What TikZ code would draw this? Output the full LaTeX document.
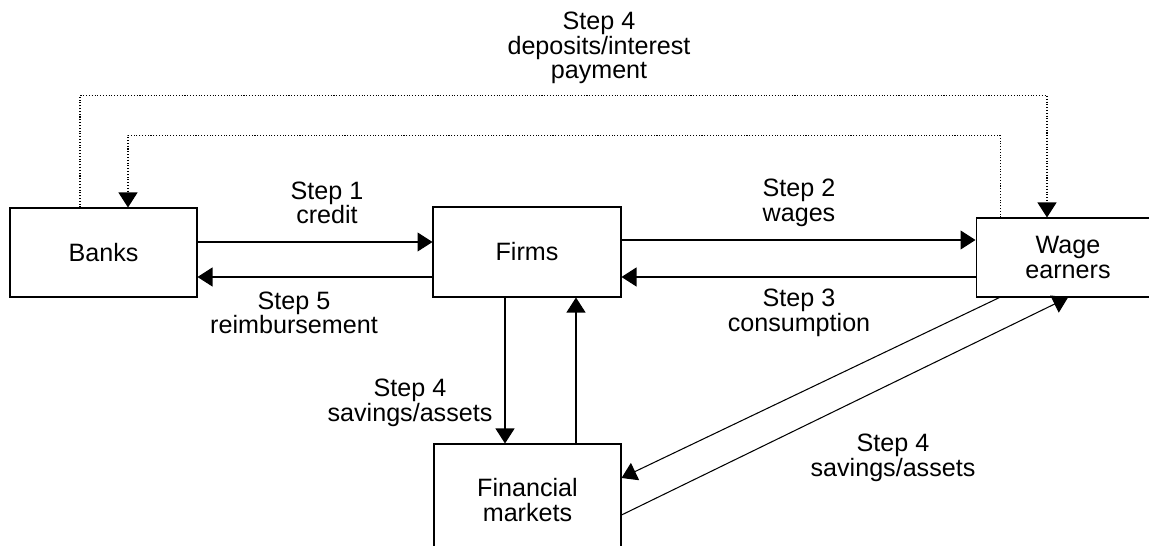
\documentclass[tikz,border=0pt]{standalone}
\usepackage{fontspec}
\setmainfont{Liberation Sans}
\usetikzlibrary{positioning, arrows.meta, calc}

\tikzset{
  actor/.style={draw, line width=0.6pt, inner sep=0pt, align=center,
    font=\fontsize{14.3}{14}\selectfont},
  steplabel/.style={align=center, inner sep=0pt,
    font=\fontsize{14.3}{14}\selectfont},
  flow/.style={line width=0.6pt, -{Triangle[length=0.3cm, width=0.38cm]}},
  loan/.style={flow, densely dotted}
}

\begin{document}
\begin{tikzpicture}[x=0.02cm, y=-0.02cm]
  \useasboundingbox (0,0) rectangle (1149,546);

  % Sectors
  \node[actor, minimum width=3.74cm, minimum height=1.78cm] (banks) at (103.5,252.5) {Banks};
  \node[actor, minimum width=3.76cm, minimum height=1.8cm] (firms) at (527,252) {Firms};
  \node[actor, minimum width=3.68cm, minimum height=1.58cm] (wage) at (1068,257.5) {Wage\\earners};
  \node[actor, minimum width=3.74cm, minimum height=2.24cm] (fin) at (527.5,500) {Financial\\markets};

  % Credit and reimbursement
  \draw[flow] ([yshift=2.1mm]banks.east) -- ([yshift=2.1mm]banks.east -| firms.west);
  \draw[flow] ([yshift=-5mm]firms.west) -- ([yshift=-5mm]firms.west -| banks.east);

  % Wages and consumption
  \draw[flow] ([yshift=2.4mm]firms.east) -- ([yshift=2.4mm]firms.east -| wage.west);
  \draw[flow] ([yshift=-5mm]firms.east -| wage.west) -- ([yshift=-5mm]firms.east);

  % Savings between firms and markets
  \draw[flow] ([xshift=-4.4mm]firms.south) -- ([xshift=-4.4mm]firms.south |- fin.north);
  \draw[flow] ([xshift=9.8mm]firms.south |- fin.north) -- ([xshift=9.8mm]firms.south);

  % Savings between wage earners and markets
  \draw[flow] ([xshift=4.8mm]wage.south west) -- ([yshift=4.4mm]fin.east);
  \draw[flow] ([yshift=-3mm]fin.east) -- (wage.south);

  % Deposits and interest
  \draw[loan] ([xshift=-4.7mm]banks.north) -- ++(0,-112) -| ([xshift=-4.2mm]wage.north);
  \draw[loan] ([xshift=-13.6mm]wage.north) -- ++(0,-82) -| ([xshift=4.9mm]banks.north);

  % Labels
  \node[steplabel] (lbldeposit) at (599,48) {Step 4\\deposits/interest\\payment};
  \node[steplabel] (lblcredit) at (327,203) {Step 1\\credit};
  \node[steplabel] (lblwages) at (799,203) {Step 2\\wages};
  \node[steplabel] (lblreimb) at (294,313) {Step 5\\reimbursement};
  \node[steplabel] (lblcons) at (799,313) {Step 3\\consumption};
  \node[steplabel] (lblsavfirm) at (410,403) {Step 4\\savings/assets};
  \node[steplabel] (lblsavwage) at (893,458) {Step 4\\savings/assets};
\end{tikzpicture}
\end{document}
